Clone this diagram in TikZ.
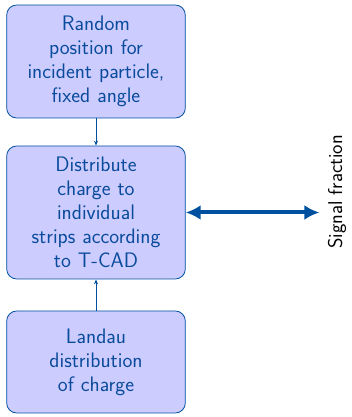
\documentclass[tikz,border=0pt]{standalone}
\usetikzlibrary{arrows.meta}
\definecolor{boxblue}{RGB}{204,204,255}
\definecolor{textblue}{RGB}{10,75,155}
\definecolor{linkblue}{RGB}{0,80,160}
\tikzset{
  stepbox/.style={draw=linkblue, line width=0.8pt, fill=boxblue, rounded corners=10pt,
    minimum width=178pt, text width=172pt, align=center, text=textblue,
    font=\fontsize{21}{24}\selectfont\sffamily},
  link/.style={draw=linkblue, line width=0.8pt, -{Stealth[length=5pt,width=4pt]}},
  biglink/.style={draw=linkblue, line width=4pt, {Latex[length=15pt,width=15pt]}-{Latex[length=15pt,width=15pt]}}
}
\begin{document}
\begin{tikzpicture}[x=1pt,y=1pt]
    \useasboundingbox (0,0) rectangle (351,417);
    \node[stepbox, minimum height=113pt] (R) at (96,355.5){Random\\position for\\incident particle,\\fixed angle};
    \node[stepbox, minimum height=133pt] (D) at (96,204.5){Distribute\\charge to\\individual\\strips according\\to T-CAD};
    \node[stepbox, minimum height=102pt] (L) at (96,55){Landau\\distribution\\of charge};
    \node[rotate=90, font=\fontsize{20}{22}\selectfont\sffamily] (S) at (337,225){Signal fraction};

    \draw (R) edge[link] (D);
    \draw (L) edge[link] (D);
    \draw (D.east) edge[biglink] ([xshift=-5pt]S.north |- D.east);
  \end{tikzpicture}
\end{document}
